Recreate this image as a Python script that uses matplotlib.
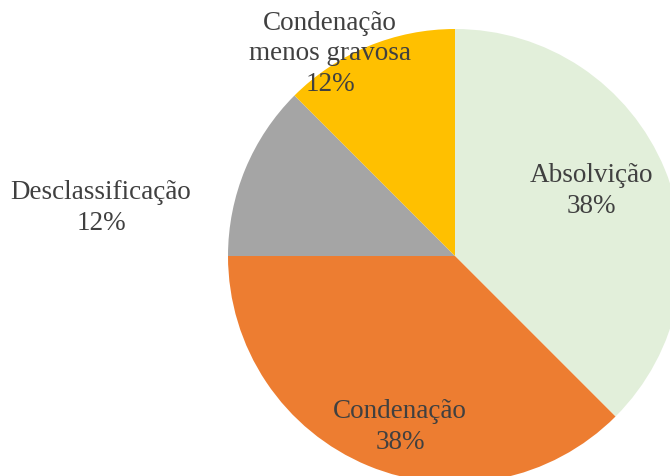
import matplotlib.pyplot as plt

categories = ['Absolvição', 'Condenação', 'Desclassificação', 'Condenação\nmenos gravosa']
shares = [3, 3, 1, 1]
pct_labels = ['38%', '38%', '12%', '12%']
colors = ['#E2EFDA', '#ED7D31', '#A5A5A5', '#FFC000']

plt.rcParams['font.family'] = ['Liberation Serif', 'DejaVu Serif']

fig = plt.figure(figsize=(6.7, 4.77), dpi=100)
ax = fig.add_axes([0, 0, 1, 1])

# pie is bigger than the canvas on the right and bottom, like the original
ax.pie(shares, colors=colors, startangle=90, counterclock=False,
       center=(455, 220), radius=227, frame=True)
ax.set_xlim(0, 670)
ax.set_ylim(0, 477)
ax.set_aspect('equal')
ax.axis('off')

label_pos = [(591, 286), (400, 50), (101, 269), (330, 423)]
for cat, pct, (x, y) in zip(categories, pct_labels, label_pos):
    ax.text(x, y, cat + '\n' + pct, ha='center', va='center',
            fontsize=19.5, color='#404040', linespacing=1.27)

fig.savefig('out.png', dpi=100)
